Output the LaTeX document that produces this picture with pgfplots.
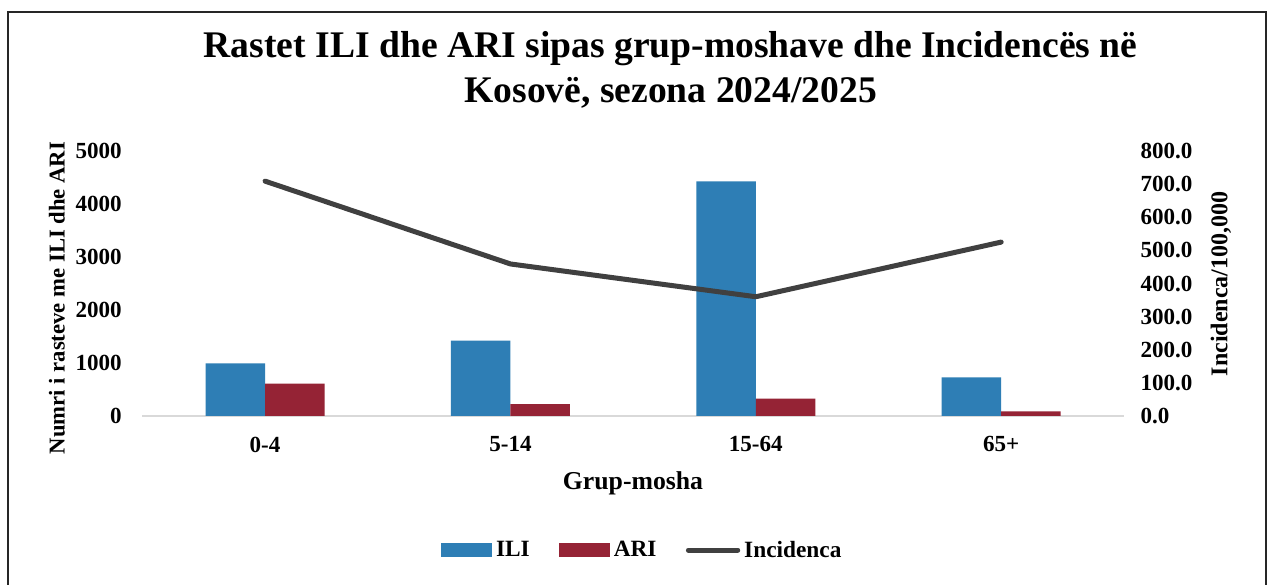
\documentclass[border=0pt]{standalone}
\usepackage{pgfplots}
\pgfplotsset{compat=1.18}
\usepackage{fontspec}
\setmainfont{Liberation Serif}
\definecolor{ili}{HTML}{2E7EB5}
\definecolor{ari}{HTML}{952335}
\definecolor{inc}{HTML}{404040}
\definecolor{base}{HTML}{D9D9D9}
\pgfplotsset{
 barlegend/.style={legend image code/.code={\fill[##1] (0pt,-4.9pt) rectangle (38pt,4.9pt);}},
 linelegend/.style={legend image code/.code={\draw[##1] (1pt,0pt) -- (38pt,0pt);}},
}
\begin{document}
\begin{tikzpicture}[x=1pt,y=1pt]
\useasboundingbox (0,0) rectangle (951,438.75);
\fill[white] (0,0) rectangle (951,438.75);
\draw[line width=1.5pt, black!85] (6,-10) -- (6,429.75) -- (949.5,429.75) -- (949.5,-10);
\begin{axis}[at={(106.8pt,126.75pt)}, anchor=south west, scale only axis,
 width=736.1pt, height=198.75pt,
 xmin=-0.5, xmax=3.5, ymin=0, ymax=5000, ytick={0,1000,...,5000},
 xtick=data, xticklabels={0-4,5-14,15-64,65+},
 ybar=0pt, bar width=44.6pt,
 axis x line*=bottom, axis y line*=left,
 x axis line style={draw=base, line width=1.5pt},
 y axis line style={draw=none},
 major tick length=0pt, tick style={draw=none},
 ticklabel style={font=\fontsize{17.3}{18}\selectfont\bfseries},
 yticklabel style={xshift=-12pt},
 xticklabel style={yshift=-12pt},
 scaled y ticks=false,
 /pgf/number format/assume math mode=true,
 /pgf/number format/1000 sep={},
]
\addplot[fill=ili, draw=none] coordinates {(0,994) (1,1421) (2,4428) (3,730)};
\addplot[fill=ari, draw=none] coordinates {(0,610) (1,226) (2,327) (3,89)};
\end{axis}
\begin{axis}[at={(106.8pt,126.75pt)}, anchor=south west, scale only axis,
 width=736.1pt, height=198.75pt,
 xmin=-0.5, xmax=3.5, ymin=0, ymax=800, ytick={0,100,...,800},
 axis x line=none, axis y line*=right,
 y axis line style={draw=none},
 major tick length=0pt, tick style={draw=none},
 ticklabel style={font=\fontsize{17.3}{18}\selectfont\bfseries},
 yticklabel style={xshift=9pt},
 /pgf/number format/assume math mode=true,
 /pgf/number format/.cd, fixed, fixed zerofill, precision=1, 1000 sep={},
 /pgfplots/.cd,
 legend columns=3,
 legend style={at={(0.5105,-0.5057)}, anchor=center, draw=none, fill=none,
   font=\fontsize{17.5}{18}\selectfont\bfseries,
   /tikz/every even column/.append style={column sep=19pt},
   nodes={inner xsep=3pt}},
]
\addlegendimage{barlegend, fill=ili, draw=none}
\addlegendentry{ILI}
\addlegendimage{barlegend, fill=ari, draw=none}
\addlegendentry{ARI}
\addlegendimage{linelegend, draw=inc, line width=3.75pt, line cap=round}
\addlegendentry{Incidenca}
\addplot[draw=inc, line width=3.75pt, line cap=round, line join=round, forget plot]
 coordinates {(0,709) (1,459) (2,360) (3,525)};
\end{axis}
\node[anchor=base, font=\fontsize{28.2}{30}\selectfont\bfseries] at (503,395.5) {Rastet ILI dhe ARI sipas grup-moshave dhe Incidencës në};
\node[anchor=base, font=\fontsize{28.2}{30}\selectfont\bfseries] at (503,361.7) {Kosovë, sezona 2024/2025};
\node[anchor=base, font=\fontsize{19.3}{20}\selectfont\bfseries] at (474.75,71.25) {Grup-mosha};
\node[rotate=90, font=\fontsize{17}{18}\selectfont\bfseries] at (42.75,215.25) {Numri i rasteve me ILI dhe ARI};
\node[rotate=90, font=\fontsize{18}{18}\selectfont\bfseries] at (915.75,225.75) {Incidenca/100,000};
\end{tikzpicture}
\end{document}
